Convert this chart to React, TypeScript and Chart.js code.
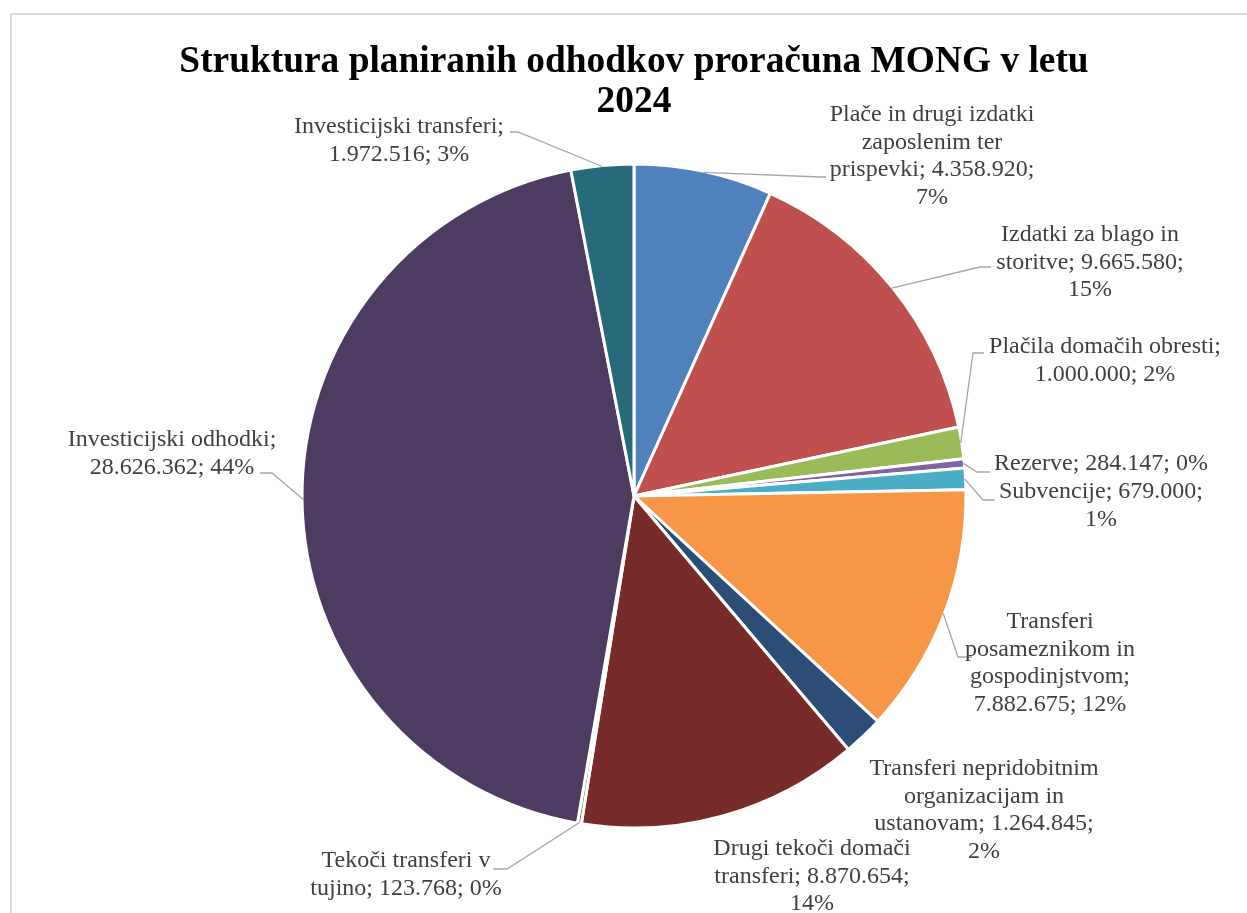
import React, { useEffect, useRef } from "react";
import { Chart, registerables } from "chart.js";

Chart.register(...registerables);

const titleLines = ["Struktura planiranih odhodkov proračuna MONG v letu", "2024"];

const categories = [
  "Plače in drugi izdatki zaposlenim ter prispevki",
  "Izdatki za blago in storitve",
  "Plačila domačih obresti",
  "Rezerve",
  "Subvencije",
  "Transferi posameznikom in gospodinjstvom",
  "Transferi nepridobitnim organizacijam in ustanovam",
  "Drugi tekoči domači transferi",
  "Tekoči transferi v tujino",
  "Investicijski odhodki",
  "Investicijski transferi",
];

const values = [
  4358920, 9665580, 1000000, 284147, 679000, 7882675, 1264845, 8870654, 123768, 28626362, 1972516,
];

const colors = [
  "#4F81BD", "#C0504D", "#9BBB59", "#8064A2", "#4BACC6", "#F79646",
  "#2C4D75", "#772C2A", "#5F7530", "#4D3B62", "#276A7C",
];

// label layout: offsets from pie centre (text centre of first line), wrap width, optional leader elbow/end
type LabelLayout = { tx: number; ty: number; w: number; elbow?: [number, number]; end?: [number, number] };
const labelLayout: LabelLayout[] = [
  { tx: 298, ty: -381, w: 212, elbow: [186, -319], end: [192, -319] },
  { tx: 456, ty: -261, w: 200, elbow: [346, -229], end: [357, -229] },
  { tx: 471, ty: -149, w: 240, elbow: [339, -143], end: [350, -143] },
  { tx: 467, ty: -32, w: 230, elbow: [343, -24], end: [356, -24] },
  { tx: 467, ty: -4, w: 215, elbow: [349, 4], end: [361, 4] },
  { tx: 416, ty: 126, w: 175, elbow: [324, 161], end: [338, 161] },
  { tx: 350, ty: 273, w: 245 },
  { tx: 178, ty: 353, w: 208 },
  { tx: -228, ty: 365, w: 215, elbow: [-127, 373], end: [-141, 373] },
  { tx: -462, ty: -56, w: 218, elbow: [-362, -23], end: [-374, -23] },
  { tx: -235, ty: -369, w: 218, elbow: [-116, -364], end: [-124, -364] },
];

const fmt = (v: number) => String(v).replace(/\B(?=(\d{3})+(?!\d))/g, ".");

function wrap(ctx: CanvasRenderingContext2D, text: string, maxW: number): string[] {
  const words = text.split(" ");
  const lines: string[] = [];
  let cur = "";
  for (const w of words) {
    const test = cur ? cur + " " + w : w;
    if (cur && ctx.measureText(test).width > maxW) {
      lines.push(cur);
      cur = w;
    } else cur = test;
  }
  if (cur) lines.push(cur);
  return lines;
}

const decorPlugin = {
  id: "decor",
  afterDatasetsDraw(chart: any) {
    const ctx: CanvasRenderingContext2D = chart.ctx;
    const meta = chart.getDatasetMeta(0);
    const total = values.reduce((a, b) => a + b, 0);
    ctx.save();
    // frame
    ctx.strokeStyle = "#D9D9D9";
    ctx.lineWidth = 2;
    ctx.beginPath();
    ctx.moveTo(11, chart.height);
    ctx.lineTo(11, 14);
    ctx.lineTo(chart.width, 14);
    ctx.stroke();

    // title
    ctx.fillStyle = "#000000";
    ctx.font = "bold 37.4px 'Liberation Serif', 'Times New Roman', serif";
    ctx.textAlign = "center";
    ctx.textBaseline = "alphabetic";
    const first = meta.data[0];
    const cx = first.x;
    const cy = first.y;
    titleLines.forEach((t, i) => ctx.fillText(t, cx, 72 + i * 40));

    // labels
    ctx.font = "24px 'Liberation Serif', 'Times New Roman', serif";
    ctx.textBaseline = "middle";
    meta.data.forEach((arc: any, i: number) => {
      const L = labelLayout[i];
      const p = arc.getProps(["x", "y", "startAngle", "endAngle", "outerRadius"], true);
      const mid = (p.startAngle + p.endAngle) / 2;
      const r = p.outerRadius - 1;
      const sx = p.x + Math.cos(mid) * r;
      const sy = p.y + Math.sin(mid) * r;
      if (L.elbow && L.end) {
        ctx.strokeStyle = "#A6A6A6";
        ctx.lineWidth = 1.3;
        ctx.beginPath();
        ctx.moveTo(sx, sy);
        ctx.lineTo(p.x + L.elbow[0], p.y + L.elbow[1]);
        ctx.lineTo(p.x + L.end[0], p.y + L.end[1]);
        ctx.stroke();
      }
      const pct = Math.round((values[i] / total) * 100);
      const text = `${categories[i]}; ${fmt(values[i])}; ${pct}%`;
      const lines = wrap(ctx, text, L.w);
      ctx.fillStyle = "#404040";
      lines.forEach((ln, j) => ctx.fillText(ln, cx + L.tx, cy + L.ty + j * 27.6));
    });
    ctx.restore();
  },
};

export default function App() {
  const ref = useRef<HTMLCanvasElement>(null);
  useEffect(() => {
    if (!ref.current) return;
    const chart = new Chart(ref.current, {
      type: "pie",
      data: {
        labels: categories,
        datasets: [
          {
            data: values,
            backgroundColor: colors,
            borderColor: "#FFFFFF",
            borderWidth: 3,
          },
        ],
      },
      options: {
        responsive: false,
        animation: false,
        radius: 332,
        layout: { padding: { left: 21, top: 79, right: 0, bottom: 0 } },
        plugins: {
          legend: { display: false },
          tooltip: { enabled: false },
          title: { display: false },
        },
      } as any,
      plugins: [decorPlugin],
    });
    return () => chart.destroy();
  }, []);
  return (
    <div style={{ position: "absolute", left: 0, top: 0, width: 1247, height: 913, background: "#fff" }}>
      <canvas ref={ref} width={1247} height={913} style={{ display: "block" }} />
    </div>
  );
}
